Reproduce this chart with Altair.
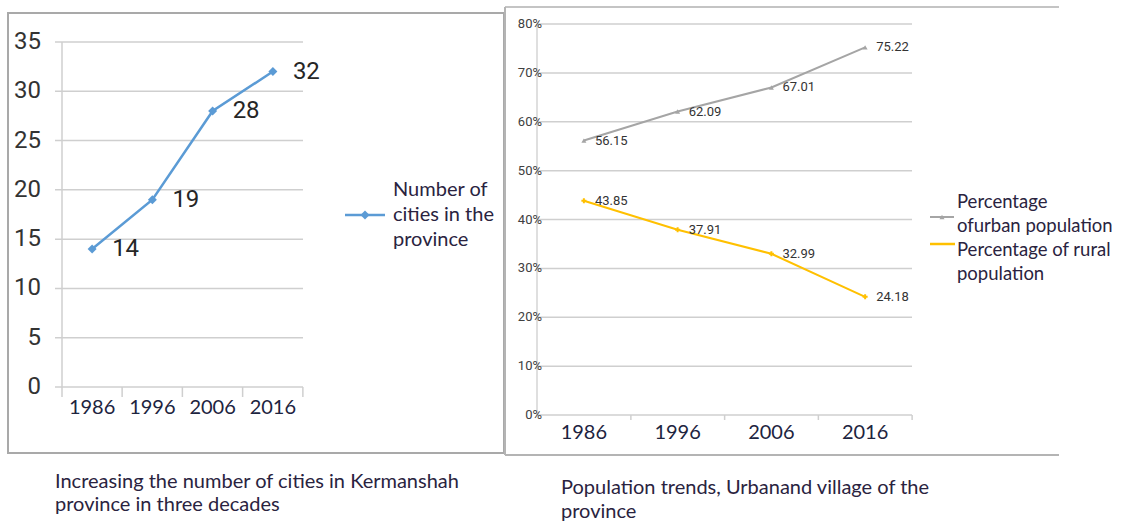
import altair as alt
import pandas as pd

# ---- data -------------------------------------------------------------
years = ["1986", "1996", "2006", "2016"]
cities = [14, 19, 28, 32]
urban_pct = [56.15, 62.09, 67.01, 75.22]
rural_pct = [43.85, 37.91, 32.99, 24.18]
city_ticks = [0, 5, 10, 15, 20, 25, 30, 35]
pct_ticks = [0, 10, 20, 30, 40, 50, 60, 70, 80]

city_df = pd.DataFrame({"year": years, "cities": cities})
pop_df = pd.DataFrame({
    "year": years * 2,
    "pct": urban_pct + rural_pct,
    "series": ["urban"] * 4 + ["rural"] * 4,
})
city_tick_df = pd.DataFrame({"v": city_ticks})
pct_tick_df = pd.DataFrame({"v": pct_ticks, "lab": [f"{t}%" for t in pct_ticks]})
year_df = pd.DataFrame({"year": years})

# ---- styles -----------------------------------------------------------
NARROW = "Roboto, 'Liberation Sans', sans-serif"
SANS = "Lato, 'Open Sans', sans-serif"
GRID = "#cfcfcf"
BLUE = "#5B9BD5"
GRAY = "#a5a5a5"
GOLD = "#FFC000"
INK = "#2a2340"

# scales: each panel places its own plot area on the shared canvas
xL = alt.Scale(type="point", domain=years, range=[62, 303], padding=0.5)
yL = alt.Scale(domain=[0, 35], range=[387, 42])
xR = alt.Scale(type="point", domain=years, range=[537, 912], padding=0.5)
yR = alt.Scale(domain=[0, 80], range=[415, 24])


def one_row():
    return alt.Chart(pd.DataFrame({"k": [0]}))


def note(text, x, y, size=20, font=SANS, color=INK, align="left"):
    return alt.Chart(pd.DataFrame({"t": [text]})).mark_text(
        align=align, baseline="middle", font=font, fontSize=size, color=color
    ).encode(x=alt.value(x), y=alt.value(y), text="t:N")


def hline(x1, x2, y, color, width=2):
    return one_row().mark_rule(color=color, strokeWidth=width).encode(
        x=alt.value(x1), x2=alt.value(x2), y=alt.value(y))


def vline(x, y1, y2, color, width=2):
    return one_row().mark_rule(color=color, strokeWidth=width).encode(
        x=alt.value(x), y=alt.value(y1), y2=alt.value(y2))


layers = []

# ---- frames -------------------------------------------------------------
layers.append(one_row().mark_rect(fillOpacity=0, stroke="#a9a9a9", strokeWidth=2).encode(
    x=alt.value(8), x2=alt.value(504), y=alt.value(13), y2=alt.value(453)))
layers += [
    hline(505, 1059, 7, "#c4c4c4"),
    hline(505, 1059, 455, "#b4b4b4"),
    vline(505, 7, 455, "#b4b4b4"),
]

# ---- left panel: number of cities -------------------------------------
layers.append(alt.Chart(city_tick_df).mark_rule(color=GRID, strokeWidth=1.5).encode(
    y=alt.Y("v:Q", scale=yL, axis=None), x=alt.value(55), x2=alt.value(303)))
layers.append(vline(62, 42, 397, "#cfcfcf", 1.5))
layers.append(alt.Chart(year_df).mark_rule(color="#cfcfcf", strokeWidth=1.5, xOffset=30).encode(
    x=alt.X("year:N", scale=xL, axis=None), y=alt.value(387), y2=alt.value(397)))
layers.append(alt.Chart(city_tick_df).mark_text(
    align="right", baseline="middle", font=NARROW, fontSize=24, color="#333333").encode(
    y=alt.Y("v:Q", scale=yL, axis=None), x=alt.value(41), text="v:Q"))
layers.append(alt.Chart(year_df).mark_text(
    baseline="middle", font=SANS, fontSize=20, color="#1d2440").encode(
    x=alt.X("year:N", scale=xL, axis=None), y=alt.value(408), text="year:N"))
layers.append(alt.Chart(city_df).mark_line(color=BLUE, strokeWidth=2.5).encode(
    x=alt.X("year:N", scale=xL, axis=None), y=alt.Y("cities:Q", scale=yL, axis=None)))
layers.append(alt.Chart(city_df).mark_point(
    shape="diamond", filled=True, size=80, color=BLUE, opacity=1).encode(
    x=alt.X("year:N", scale=xL, axis=None), y=alt.Y("cities:Q", scale=yL, axis=None)))
layers.append(alt.Chart(city_df).mark_text(
    align="left", baseline="middle", dx=20, font=NARROW, fontSize=24, color="#262626").encode(
    x=alt.X("year:N", scale=xL, axis=None), y=alt.Y("cities:Q", scale=yL, axis=None),
    text="cities:Q"))

# left legend
layers.append(hline(345, 385, 215, BLUE, 2.5))
layers.append(one_row().mark_point(shape="diamond", filled=True, size=80, color=BLUE, opacity=1).encode(
    x=alt.value(365), y=alt.value(215)))
layers += [
    note("Number of", 393, 190),
    note("cities in the", 393, 215),
    note("province", 393, 240),
]

# ---- right panel: urban / rural shares --------------------------------
layers.append(alt.Chart(pct_tick_df).mark_rule(color=GRID, strokeWidth=1.5).encode(
    y=alt.Y("v:Q", scale=yR, axis=None), x=alt.value(537), x2=alt.value(912)))
layers.append(vline(537, 24, 415, "#d4d4d4", 1.5))
layers.append(alt.Chart(year_df).mark_rule(color="#cfcfcf", strokeWidth=1.5, xOffset=47).encode(
    x=alt.X("year:N", scale=xR, axis=None), y=alt.value(415), y2=alt.value(420)))
layers.append(alt.Chart(pct_tick_df).mark_text(
    align="right", baseline="middle", font=NARROW, fontSize=13, color="#404040").encode(
    y=alt.Y("v:Q", scale=yR, axis=None), x=alt.value(542), text="lab:N"))
layers.append(alt.Chart(year_df).mark_text(
    baseline="middle", font=SANS, fontSize=20, color="#1d2440").encode(
    x=alt.X("year:N", scale=xR, axis=None), y=alt.value(433), text="year:N"))

color_scale = alt.Scale(domain=["urban", "rural"], range=[GRAY, GOLD])
layers.append(alt.Chart(pop_df).mark_line(strokeWidth=2).encode(
    x=alt.X("year:N", scale=xR, axis=None), y=alt.Y("pct:Q", scale=yR, axis=None),
    color=alt.Color("series:N", scale=color_scale, legend=None), detail="series:N"))
layers.append(alt.Chart(pop_df).mark_point(filled=True, size=25, opacity=1).encode(
    x=alt.X("year:N", scale=xR, axis=None), y=alt.Y("pct:Q", scale=yR, axis=None),
    color=alt.Color("series:N", scale=color_scale, legend=None),
    shape=alt.Shape("series:N", scale=alt.Scale(domain=["urban", "rural"],
                                                range=["triangle-up", "cross"]), legend=None)))
layers.append(alt.Chart(pop_df).mark_text(
    align="left", baseline="middle", dx=11, font=NARROW, fontSize=13, color="#333333").encode(
    x=alt.X("year:N", scale=xR, axis=None), y=alt.Y("pct:Q", scale=yR, axis=None),
    text=alt.Text("pct:Q", format=".2f")))

# right legend
layers.append(hline(930, 954, 217, GRAY, 2))
layers.append(one_row().mark_point(shape="triangle-up", filled=True, size=25, color=GRAY, opacity=1).encode(
    x=alt.value(942), y=alt.value(217)))
layers.append(hline(930, 955, 244, GOLD, 2.5))
layers += [
    note("Percentage", 957, 202, 18.5),
    note("ofurban population", 957, 226, 18.5),
    note("Percentage of rural", 957, 250, 18.5),
    note("population", 957, 274, 18.5),
]

# ---- captions -----------------------------------------------------------
layers += [
    note("Increasing the number of cities in Kermanshah", 55, 482),
    note("province in three decades", 55, 505),
    note("Population trends, Urbanand village of the", 561, 488),
    note("province", 561, 512),
]

chart = alt.layer(*layers).resolve_scale(
    x="independent", y="independent", color="independent", shape="independent"
).properties(
    width=1136, height=522, padding=0, autosize="none", background="white"
).configure_view(stroke=None)

chart.save("out.html", embed_options={"renderer": "svg", "actions": False})
